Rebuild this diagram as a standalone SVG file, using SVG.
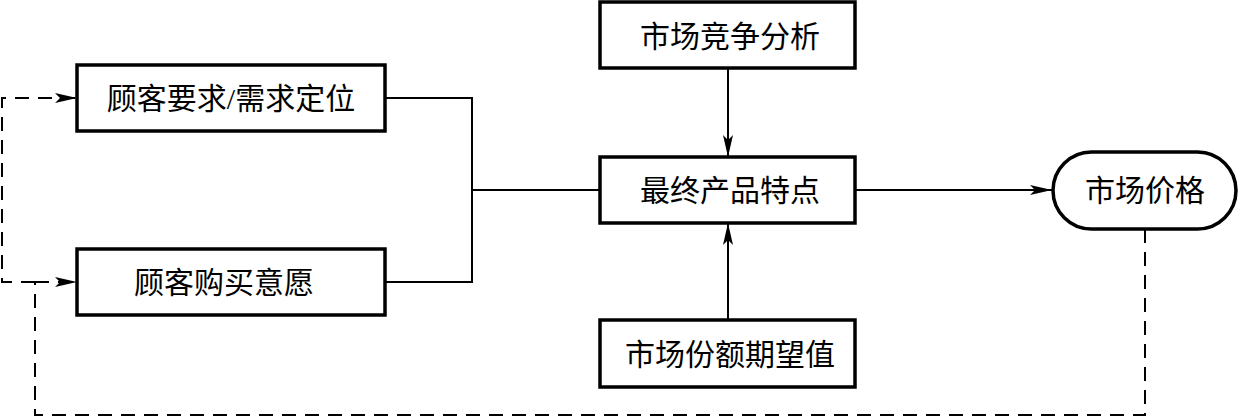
<svg xmlns="http://www.w3.org/2000/svg" width="1239" height="419" viewBox="0 0 1239 419">
<style>
.box{fill:#fff;stroke:#000;stroke-width:3.5}
.t{font-family:"Liberation Serif","Noto Sans CJK SC",serif;font-size:30px;fill:#000;text-anchor:middle;dominant-baseline:central}
.ln{fill:none;stroke:#000;stroke-width:2}
.dash{fill:none;stroke:#000;stroke-width:2;stroke-dasharray:14 9}
</style>
<defs>
<marker id="ah" markerWidth="22" markerHeight="10" refX="22" refY="5" orient="auto" markerUnits="userSpaceOnUse">
<path d="M0,0 L22,5 L0,10 L5,5 Z" fill="#000"/>
</marker>
</defs>
<g id="connectors">
<polyline class="ln" points="385,98 472,98 472,282 385,282"/>
<line class="ln" x1="472" y1="190" x2="600" y2="190"/>
<line class="ln" x1="728" y1="68" x2="728" y2="157" marker-end="url(#ah)"/>
<line class="ln" x1="728" y1="320" x2="728" y2="223" marker-end="url(#ah)"/>
<line class="ln" x1="855" y1="190" x2="1052" y2="190" marker-end="url(#ah)"/>
<polyline class="dash" points="1145,229 1145,415 35,415 35,282"/>
<polyline class="dash" points="35,282 77,282" marker-end="url(#ah)"/>
<polyline class="dash" points="35,282 2,282 2,98 77,98" marker-end="url(#ah)"/>
</g>
<g id="n1"><rect class="box" x="77" y="65" width="308" height="66"/><text class="t" x="231" y="98">顾客要求/需求定位</text></g>
<g id="n2"><rect class="box" x="77" y="249" width="308" height="66"/><text class="t" x="224" y="282">顾客购买意愿</text></g>
<g id="n3"><rect class="box" x="600" y="2" width="255" height="66"/><text class="t" x="730" y="36">市场竞争分析</text></g>
<g id="n4"><rect class="box" x="600" y="157" width="255" height="66"/><text class="t" x="730" y="190">最终产品特点</text></g>
<g id="n5"><rect class="box" x="600" y="320" width="255" height="67"/><text class="t" x="730" y="354">市场份额期望值</text></g>
<g id="n6"><rect class="box" x="1053" y="152" width="183" height="77" rx="38.5" ry="38.5"/><text class="t" x="1145" y="190">市场价格</text></g>
</svg>
